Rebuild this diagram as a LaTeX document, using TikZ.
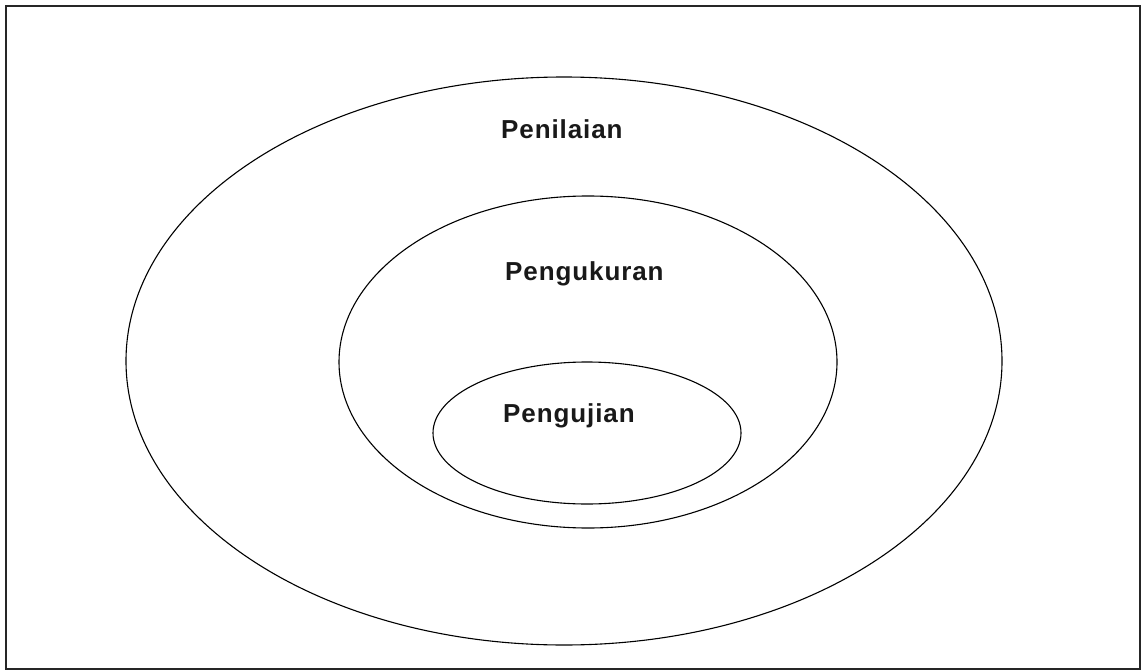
\documentclass[tikz,border=0pt]{standalone}
\usepackage{fontspec}
\setmainfont{Liberation Sans}
\newfontfamily\lblfont[LetterSpace=3.5]{Liberation Sans}
\tikzset{
  ring/.style={draw=black, line width=1.1pt},
  lbl/.style={font=\lblfont\bfseries\fontsize{26}{31}\selectfont, text=black!90, inner sep=0pt, anchor=base west},
  frame/.style={draw=black!85, line width=1.6pt}
}
\begin{document}
\begin{tikzpicture}[x=1pt,y=-1pt]
\useasboundingbox (0,0) rectangle (1142,671);
\draw[frame] (6,6) rectangle (1140,669);
\draw[ring] (564,361) ellipse [x radius=438, y radius=284];
\draw[ring] (588,362) ellipse [x radius=249, y radius=166];
\draw[ring] (587,433) ellipse [x radius=154, y radius=71];
\node[lbl] (penilaian) at (501,139) {Penilaian};
\node[lbl] (pengukuran) at (505,280) {Pengukuran};
\node[lbl] (pengujian) at (503,422) {Pengujian};
\end{tikzpicture}
\end{document}
